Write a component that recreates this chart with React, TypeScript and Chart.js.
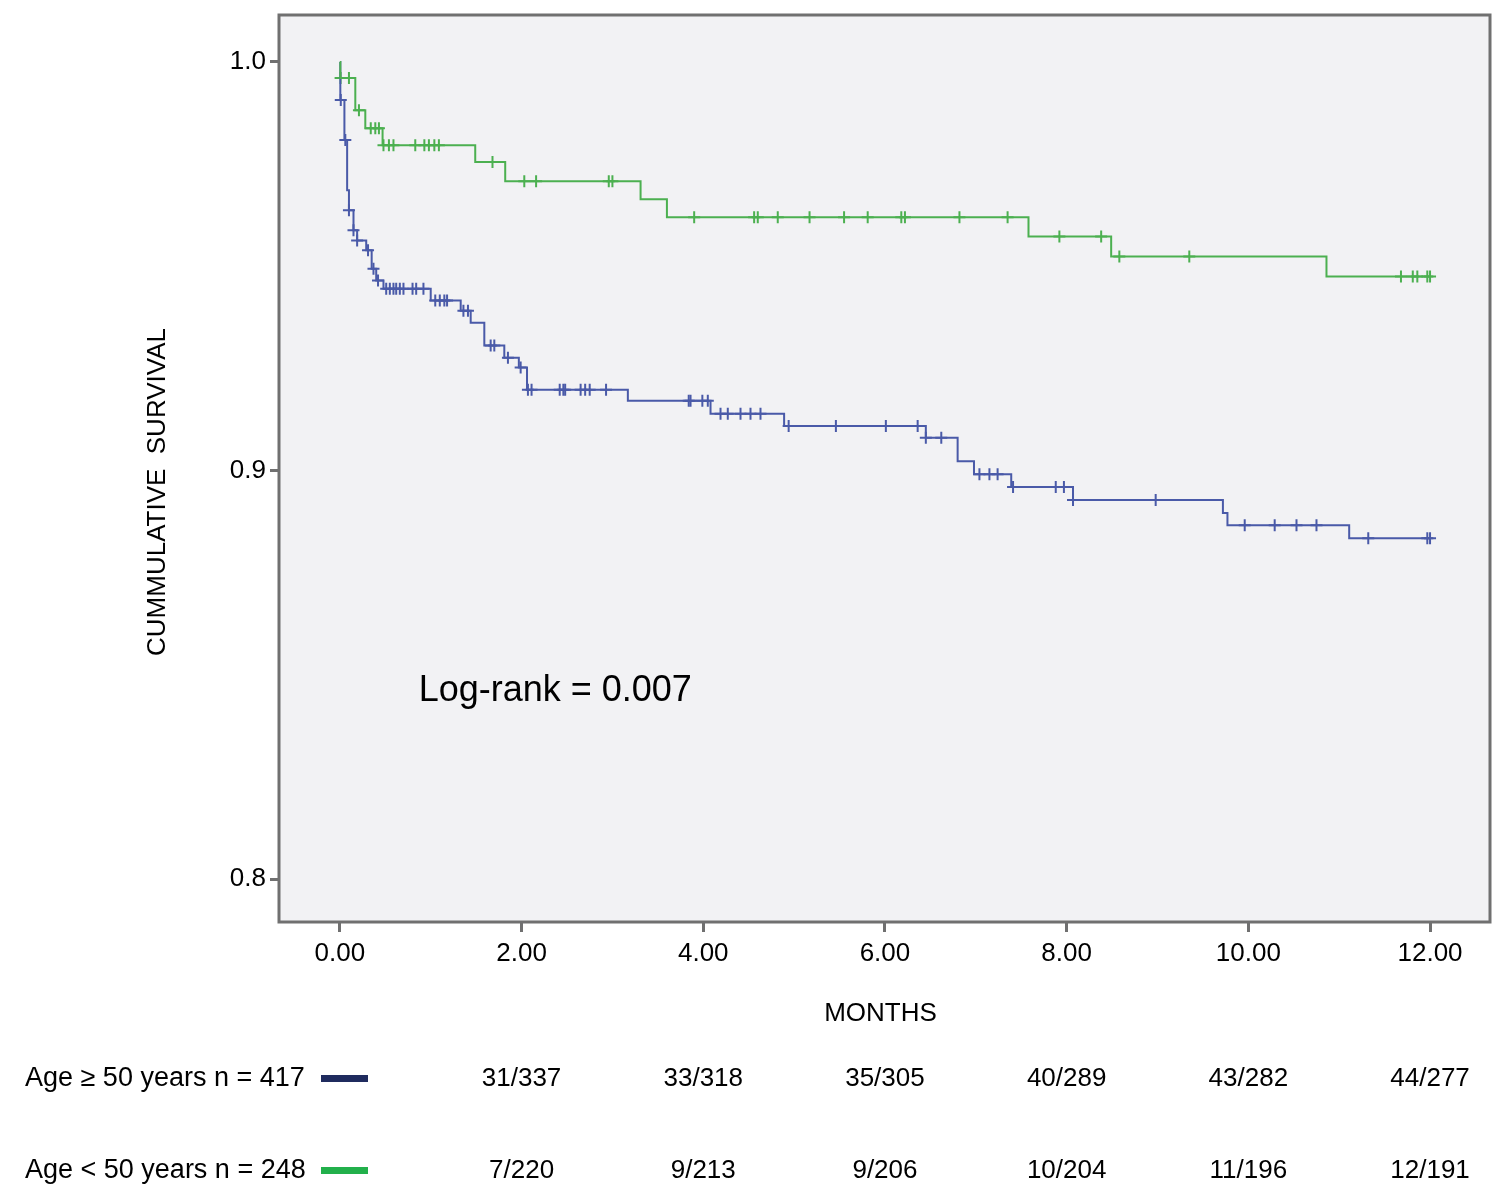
import { useEffect, useRef } from 'react';
import { Chart, registerables } from 'chart.js';

Chart.register(...registerables);

// Kaplan-Meier steps: time (months) where survival drops, and the value after the drop
const olderTimes = [0, 0.005, 0.05, 0.08, 0.1, 0.15, 0.19, 0.29, 0.35, 0.4, 0.48, 1.0, 1.33, 1.44, 1.59, 1.81, 1.97, 2.06, 3.17, 4.08, 4.89, 6.45, 6.8, 6.98, 7.39, 8.07, 9.72, 9.77, 11.11, 12.0];
const olderSurv = [1.0, 0.9907, 0.9809, 0.9686, 0.9637, 0.9588, 0.9563, 0.9539, 0.9494, 0.9465, 0.9445, 0.9416, 0.9391, 0.9362, 0.9306, 0.9276, 0.9252, 0.9198, 0.9171, 0.9139, 0.9109, 0.908, 0.9023, 0.8991, 0.896, 0.8928, 0.8896, 0.8866, 0.8834, 0.8834];
const olderCensored = [0.01, 0.06, 0.1, 0.15, 0.19, 0.31, 0.37, 0.42, 0.51, 0.55, 0.59, 0.62, 0.66, 0.7, 0.8, 0.84, 0.92, 1.05, 1.1, 1.15, 1.18, 1.36, 1.41, 1.66, 1.7, 1.85, 1.99, 2.07, 2.11, 2.42, 2.46, 2.48, 2.65, 2.7, 2.75, 2.93, 3.84, 3.86, 3.99, 4.05, 4.19, 4.27, 4.41, 4.52, 4.63, 4.94, 5.46, 6.01, 6.36, 6.45, 6.62, 7.04, 7.15, 7.24, 7.41, 7.88, 7.97, 8.07, 8.98, 9.96, 10.29, 10.53, 10.75, 11.32, 11.97, 12.0];

const youngerTimes = [0, 0.005, 0.17, 0.28, 0.47, 1.49, 1.82, 3.31, 3.6, 7.58, 8.49, 10.86, 12.0];
const youngerSurv = [1.0, 0.9961, 0.9882, 0.9838, 0.9796, 0.9755, 0.9708, 0.9664, 0.962, 0.9573, 0.9524, 0.9475, 0.9475];
const youngerCensored = [0.008, 0.1, 0.21, 0.34, 0.39, 0.43, 0.48, 0.54, 0.59, 0.83, 0.93, 0.98, 1.04, 1.09, 1.68, 2.03, 2.16, 2.96, 3.0, 3.9, 4.56, 4.6, 4.82, 5.17, 5.55, 5.81, 6.18, 6.22, 6.82, 7.35, 7.92, 8.38, 8.58, 9.35, 11.68, 11.81, 11.86, 11.97, 12.0];

const xTicks = [0, 2, 4, 6, 8, 10, 12];
const yTicks = [0.8, 0.9, 1.0];

// events/at risk table
const riskTimes = [2, 4, 6, 8, 10, 12];
const riskOlder = ['31/337', '33/318', '35/305', '40/289', '43/282', '44/277'];
const riskYounger = ['7/220', '9/213', '9/206', '10/204', '11/196', '12/191'];

const groupLabels = ['Age \u2265 50 years n = 417', 'Age < 50 years n = 248'];

const BLUE = '#4a5aa8';
const GREEN = '#4cb050';
const FONT = '"Liberation Sans", Arial, sans-serif';

const survivalAt = (times: number[], surv: number[], t: number) => {
  let v = surv[0];
  for (let i = 0; i < times.length; i++) {
    if (times[i] <= t) v = surv[i];
  }
  return v;
};

const framePlugin = {
  id: 'kmFrame',
  beforeDraw(chart: any) {
    const { ctx, chartArea: a } = chart;
    ctx.save();
    ctx.fillStyle = '#ffffff';
    ctx.fillRect(0, 0, chart.width, chart.height);
    ctx.fillStyle = '#f2f2f4';
    ctx.fillRect(a.left, a.top, a.right - a.left, a.bottom - a.top);
    ctx.restore();
  },
  afterDraw(chart: any) {
    const { ctx, chartArea: a, scales } = chart;
    const x = scales.x;
    const y = scales.y;
    ctx.save();
    ctx.strokeStyle = '#707070';
    ctx.lineWidth = 3;
    ctx.strokeRect(a.left, a.top, a.right - a.left, a.bottom - a.top);

    ctx.fillStyle = '#000';
    ctx.textBaseline = 'middle';

    // axis titles
    ctx.font = `26px ${FONT}`;
    ctx.textAlign = 'center';
    ctx.fillText('MONTHS', (a.left + a.right) / 2 - 4, 1014);
    ctx.save();
    ctx.translate(158, 492);
    ctx.rotate(-Math.PI / 2);
    ctx.fillText('CUMMULATIVE  SURVIVAL', 0, 0);
    ctx.restore();

    // log-rank annotation
    ctx.font = `36px ${FONT}`;
    ctx.textAlign = 'left';
    ctx.fillText('Log-rank = 0.007', x.getPixelForValue(0.867), y.getPixelForValue(0.8459));

    // table below the chart
    const rows = [
      { label: groupLabels[0], color: '#1f2b5e', values: riskOlder, y: 1079 },
      { label: groupLabels[1], color: '#22b04b', values: riskYounger, y: 1171 },
    ];
    rows.forEach((r) => {
      ctx.font = `27px ${FONT}`;
      ctx.textAlign = 'left';
      ctx.fillText(r.label, 25, r.y);
      ctx.fillStyle = r.color;
      ctx.fillRect(321, r.y - 4, 47, 7);
      ctx.fillStyle = '#000';
      ctx.font = `26px ${FONT}`;
      ctx.textAlign = 'center';
      r.values.forEach((v, i) => {
        ctx.fillText(v, x.getPixelForValue(riskTimes[i]), r.y);
      });
    });
    ctx.restore();
  },
};

const KaplanMeierChart = () => {
  const canvasRef = useRef<HTMLCanvasElement>(null);
  const chartRef = useRef<Chart | null>(null);

  useEffect(() => {
    if (!canvasRef.current) return;
    if (chartRef.current) chartRef.current.destroy();
    const ctx = canvasRef.current.getContext('2d');
    if (!ctx) return;

    Chart.defaults.font.family = FONT;
    Chart.defaults.color = '#000';

    const steps = (times: number[], surv: number[]) => times.map((t, i) => ({ x: t, y: surv[i] }));
    const marks = (times: number[], surv: number[], cens: number[]) =>
      cens.map((t) => ({ x: t, y: survivalAt(times, surv, t) }));

    chartRef.current = new Chart(ctx, {
      type: 'line',
      data: {
        datasets: [
          {
            data: steps(youngerTimes, youngerSurv),
            borderColor: GREEN,
            borderWidth: 2,
            stepped: 'before',
            pointRadius: 0,
            fill: false,
          },
          {
            data: steps(olderTimes, olderSurv),
            borderColor: BLUE,
            borderWidth: 2,
            stepped: 'before',
            pointRadius: 0,
            fill: false,
          },
          {
            type: 'scatter',
            data: marks(youngerTimes, youngerSurv, youngerCensored),
            pointStyle: 'cross',
            pointRadius: 6,
            borderColor: GREEN,
            borderWidth: 2,
            showLine: false,
          },
          {
            type: 'scatter',
            data: marks(olderTimes, olderSurv, olderCensored),
            pointStyle: 'cross',
            pointRadius: 6,
            borderColor: BLUE,
            borderWidth: 2,
            showLine: false,
          },
        ] as any,
      },
      plugins: [framePlugin],
      options: {
        responsive: true,
        maintainAspectRatio: false,
        animation: false,
        layout: { padding: { top: 15, right: 10, left: 0, bottom: 0 } },
        plugins: {
          legend: { display: false },
          tooltip: { enabled: false },
        },
        scales: {
          x: {
            type: 'linear',
            min: -0.67,
            max: 12.66,
            afterFit: (axis: any) => {
              axis.height = 275;
              axis.paddingLeft = 0;
              axis.paddingRight = 0;
            },
            afterBuildTicks: (axis: any) => { axis.ticks = xTicks.map((v) => ({ value: v })); },
            border: { display: false },
            grid: { drawOnChartArea: false, drawTicks: true, tickLength: 10, tickColor: '#707070', tickWidth: 3 },
            ticks: {
              font: { size: 26 },
              color: '#000',
              padding: 6,
              maxRotation: 0,
              callback: (v: any) => Number(v).toFixed(2),
            },
          },
          y: {
            type: 'linear',
            min: 0.7895,
            max: 1.0115,
            afterFit: (axis: any) => {
              axis.width = 279;
              axis.paddingTop = 0;
              axis.paddingBottom = 0;
            },
            afterBuildTicks: (axis: any) => { axis.ticks = yTicks.map((v) => ({ value: v })); },
            border: { display: false },
            grid: { drawOnChartArea: false, drawTicks: true, tickLength: 9, tickColor: '#707070', tickWidth: 3 },
            ticks: {
              font: { size: 26 },
              color: '#000',
              padding: 4,
              callback: (v: any) => Number(v).toFixed(1),
            },
          },
        },
      },
    });

    return () => {
      if (chartRef.current) {
        chartRef.current.destroy();
        chartRef.current = null;
      }
    };
  }, []);

  return <canvas ref={canvasRef} />;
};

export default function App() {
  return (
    <div style={{ position: 'absolute', left: 0, top: 0, width: 1500, height: 1197, background: '#fff' }}>
      <KaplanMeierChart />
    </div>
  );
}
